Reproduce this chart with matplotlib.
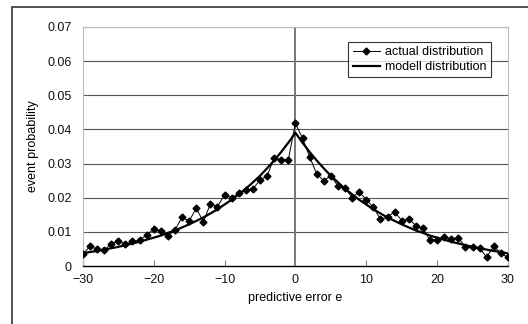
import matplotlib.pyplot as plt
from matplotlib.patches import Rectangle

# predictive error e (integer steps)
errors = list(range(-30, 31))

# actual distribution
actual = [0.0034, 0.0058, 0.0049, 0.0046, 0.0065, 0.0074, 0.0063, 0.0073, 0.0075, 0.0091,
          0.0108, 0.0102, 0.0088, 0.0105, 0.0143, 0.0131, 0.0170, 0.0129, 0.0182, 0.0174,
          0.0209, 0.0199, 0.0213, 0.0223, 0.0226, 0.0252, 0.0263, 0.0317, 0.0311, 0.0311,
          0.0418,
          0.0374, 0.0320, 0.0270, 0.0250, 0.0264, 0.0234, 0.0229, 0.0200, 0.0217, 0.0194,
          0.0172, 0.0137, 0.0143, 0.0159, 0.0133, 0.0138, 0.0118, 0.0111, 0.0075, 0.0077,
          0.0086, 0.0079, 0.0083, 0.0055, 0.0055, 0.0052, 0.0026, 0.0058, 0.0038, 0.0025]

# model distribution, right half (e = 0..30), mirrored for the left half
model_right = [0.0390, 0.0361, 0.0334, 0.0309, 0.0286, 0.0264, 0.0245, 0.0226, 0.0210, 0.0194,
               0.0180, 0.0166, 0.0154, 0.0142, 0.0132, 0.0122, 0.0113, 0.0104, 0.0097, 0.0089,
               0.0083, 0.0077, 0.0071, 0.0066, 0.0061, 0.0056, 0.0052, 0.0048, 0.0044, 0.0041,
               0.0037]
model = model_right[:0:-1] + model_right

y_ticks = [0, 0.01, 0.02, 0.03, 0.04, 0.05, 0.06, 0.07]
y_labels = ["0", "0.01", "0.02", "0.03", "0.04", "0.05", "0.06", "0.07"]
x_ticks = [-30, -20, -10, 0, 10, 20, 30]
x_labels = ["\u221230", "\u221220", "\u221210", "0", "10", "20", "30"]

plt.rcParams['font.family'] = ['Liberation Sans', 'DejaVu Sans']
fs = 9

fig = plt.figure(figsize=(5.28, 3.24), dpi=100)
ax = fig.add_axes([0.157, 0.179, 0.805, 0.738])

# outer chart frame
fig.patches.append(Rectangle((12 / 528, -0.1), 1.2, 1.1 - 7 / 324, transform=fig.transFigure,
                             fill=False, edgecolor='#333333', linewidth=1.2))

for yv in y_ticks[1:]:
    ax.axhline(yv, color='#555555', linewidth=0.8, zorder=1)
ax.axvline(0, color='#777777', linewidth=1.4, zorder=1)

ax.plot(errors, actual, color='black', linewidth=0.7, marker='D', markersize=3.5,
        label='actual distribution', zorder=3)
ax.plot(errors, model, color='black', linewidth=1.6, label='modell distribution', zorder=2)

ax.set_xlim(-30, 30)
ax.set_ylim(0, 0.07)
ax.set_xticks(x_ticks)
ax.set_xticklabels(x_labels, fontsize=fs)
ax.set_yticks(y_ticks)
ax.set_yticklabels(y_labels, fontsize=fs)
ax.tick_params(axis='y', length=0, pad=8, colors='#111111')
ax.tick_params(axis='x', direction='in', length=4, color='#888888', labelcolor='#111111', pad=6)

for side in ['left', 'right', 'top']:
    ax.spines[side].set_color('#bbbbbb')
    ax.spines[side].set_linewidth(0.8)
ax.spines['bottom'].set_color('black')
ax.spines['bottom'].set_linewidth(1.0)

ax.set_xlabel("predictive error e", fontsize=fs, labelpad=4)
ax.set_ylabel("event probability", fontsize=fs, labelpad=6)

leg = ax.legend(loc='upper right', fontsize=fs, frameon=True, fancybox=False,
                handlelength=2.2, borderpad=0.35, labelspacing=0.25, handletextpad=0.4,
                bbox_to_anchor=(0.975, 0.965))
leg.get_frame().set_edgecolor('black')
leg.get_frame().set_linewidth(0.8)

fig.savefig("out.png", dpi=100)
